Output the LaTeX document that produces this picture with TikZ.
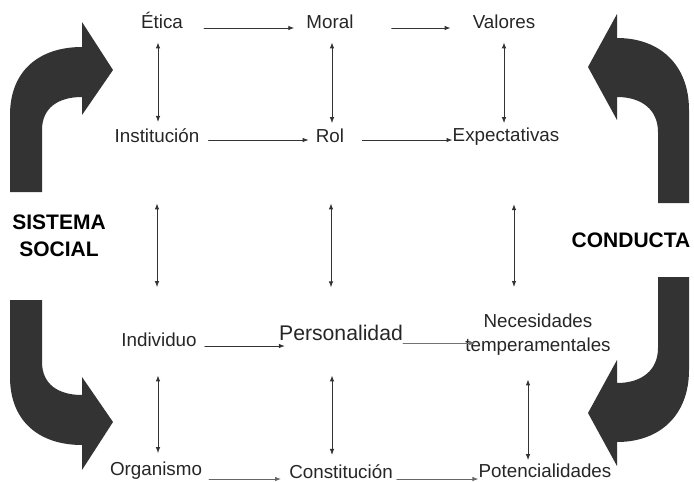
\documentclass[tikz,border=0pt]{standalone}
\usepackage{fontspec}
\setmainfont{Liberation Sans}
\usetikzlibrary{arrows.meta}
\begin{document}
\begin{tikzpicture}[line cap=round,line join=round,>={Latex[length=6pt,width=4.5pt]},x=1pt,y=-1pt,
	lbl/.style={inner sep=0pt,anchor=base,text=black!85,font=\fontsize{18.8}{23.5}\selectfont},
	big/.style={inner sep=0pt,text=black,font=\bfseries\fontsize{21}{27}\selectfont},
	link/.style={->,line width=0.9pt,draw=black!80},
	dlink/.style={<->,line width=0.9pt,draw=black!80},
	turnarrow/.style={fill=black!80,draw=none}]
			\useasboundingbox (0,0) rectangle (694,482);
			\fill [turnarrow] (10,192) -- (10,115) .. controls (10,70) and (40,47) .. (82,47) -- (82,22) -- (113,70) -- (82,115) -- (82,97) .. controls (58,97) and (42,108) .. (42,130) -- (42,192) -- cycle;
			\fill [turnarrow] (10,300) -- (10,377) .. controls (10,422) and (40,445) .. (82,445) -- (82,470) -- (113,422) -- (82,377) -- (82,395) .. controls (58,395) and (42,384) .. (42,362) -- (42,300) -- cycle;
			\fill [turnarrow] (689,203) -- (689,110) .. controls (689,65) and (660,38) .. (617,38) -- (617,14) -- (588,67) -- (617,120) -- (617,97) .. controls (642,97) and (658,110) .. (658,132) -- (658,203) -- cycle;
			\fill [turnarrow] (689,277) -- (689,370) .. controls (689,415) and (660,442) .. (617,442) -- (617,466) -- (588,413) -- (617,360) -- (617,383) .. controls (642,383) and (658,370) .. (658,348) -- (658,277) -- cycle;
			\node [big,align=center,anchor=north] (sis) at (59,215) {SISTEMA\\SOCIAL};
			\node [big,anchor=base] (con) at (631,247) {CONDUCTA};
			\node [lbl] (eti) at (162,28) {Ética};
			\node [lbl] (mor) at (330,28) {Moral};
			\node [lbl] (val) at (504,28) {Valores};
			\node [lbl] (ins) at (157,142) {Institución};
			\node [lbl] (rol) at (330,142) {Rol};
			\node [lbl] (exp) at (506,141) {Expectativas};
			\node [lbl] (ind) at (159,346) {Individuo};
			\node [lbl,font=\fontsize{21.2}{25}\selectfont] (per) at (341,340) {Personalidad};
			\node [lbl,anchor=north,align=center] (nec) at (538,314) {Necesidades\\temperamentales};
			\node [lbl] (org) at (156,475) {Organismo};
			\node [lbl] (cst) at (341,478) {Constitución};
			\node [lbl] (pot) at (545,477) {Potencialidades};
			\draw [link,shorten <=21pt,shorten >=12pt] (eti.base east) -- (eti.base east -| mor.west);
			\draw [link,shorten <=38pt,shorten >=22pt] (mor.base east) -- (mor.base east -| val.west);
			\draw [link,shorten <=9pt,shorten >=7pt] ([yshift=2pt]ins.base east) -- ([yshift=2pt]ins.base east -| rol.west);
			\draw [link,shorten <=18pt] ([yshift=2pt]rol.base east) -- ([yshift=2pt]rol.base east -| exp.west);
			\draw [link,shorten <=8pt,shorten >=-6pt] (ind.base east) -- (ind.base east -| per.west);
			\draw [link,draw=black!55,shorten >=-10pt] ([yshift=-3pt]per.base east) -- ([yshift=-3pt]per.base east -| nec.west);
			\draw [link,draw=black!60,shorten <=7pt,shorten >=8pt] ([yshift=-4pt]org.base east) -- ([yshift=-4pt]org.base east -| cst.west);
			\draw [link,draw=black!60,shorten <=4pt] ([yshift=-1pt]cst.base east) -- ([yshift=-1pt]cst.base east -| pot.west);
			\draw [dlink,shorten <=14pt,shorten >=6pt] ([xshift=-4pt]eti.south) -- ([xshift=-4pt]eti.south |- ins.north);
			\draw [dlink,shorten <=61pt,shorten >=45pt] (ins.south) -- (ins.south |- ind.north);
			\draw [dlink,shorten <=29pt,shorten >=8pt] ([xshift=-1pt]ind.south) -- ([xshift=-1pt]ind.south |- org.north);
			\draw [dlink,shorten <=14pt,shorten >=5pt] ([xshift=2pt]mor.south) -- ([xshift=2pt]mor.south |- rol.north);
			\draw [dlink,shorten <=61pt,shorten >=37pt] ([xshift=1pt]rol.south) -- ([xshift=1pt]rol.south |- per.north);
			\draw [dlink,shorten <=35pt,shorten >=9pt] ([xshift=-9pt]per.south) -- ([xshift=-9pt]per.south |- cst.north);
			\draw [dlink,shorten <=14pt,shorten >=4pt] (val.south) -- (val.south |- exp.north);
			\draw [dlink,shorten <=59pt,shorten >=27pt] ([xshift=8pt]exp.south) -- ([xshift=8pt]exp.south |- nec.north);
			\draw [dlink,shorten <=24pt,shorten >=3pt] ([xshift=-10pt]nec.south) -- ([xshift=-10pt]nec.south |- pot.north);
\end{tikzpicture}
\end{document}
